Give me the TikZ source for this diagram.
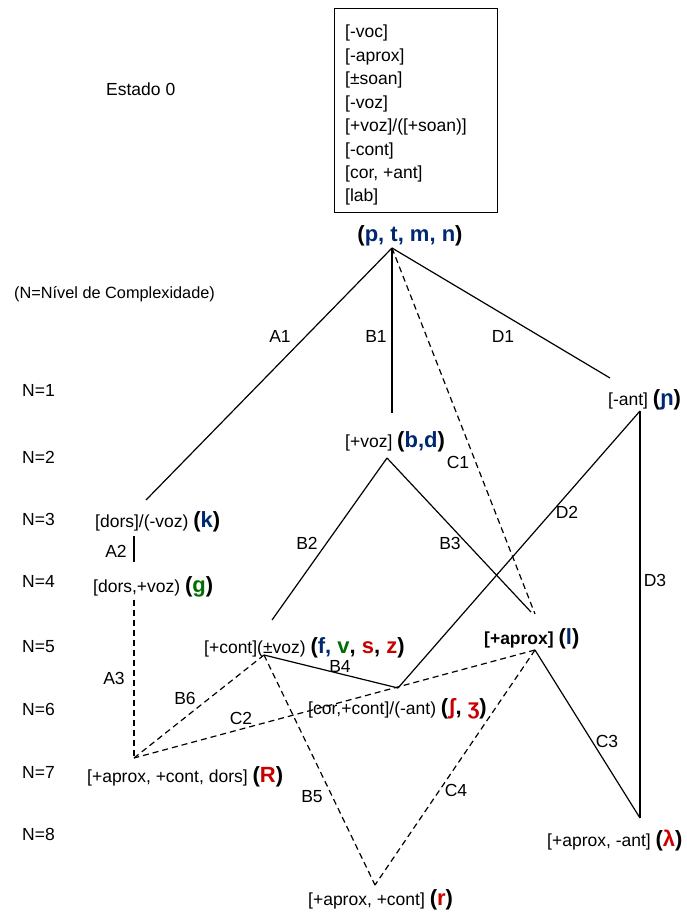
\documentclass[tikz,border=0pt]{standalone}
\usepackage{fontspec}
\setmainfont{Liberation Sans}
\definecolor{nblue}{RGB}{0,40,110}
\definecolor{ngreen}{RGB}{0,110,0}
\definecolor{nred}{RGB}{200,0,0}
\newcommand\symb[1]{{\fontsize{22}{26}\selectfont\bfseries #1}}
\tikzset{
  txt/.style={font=\fontsize{17.5}{21}\selectfont, inner sep=0pt, anchor=base west},
  lbl/.style={font=\fontsize{17.5}{21}\selectfont, inner sep=0pt},
  edge/.style={line width=1.2pt},
  dedge/.style={line width=1.2pt, dash pattern=on 6pt off 4pt},
}
\begin{document}
\begin{tikzpicture}[x=1pt,y=-1pt]
\useasboundingbox (0,0) rectangle (687,915);
% feature box
\node[draw, line width=0.9pt, anchor=north west, minimum width=163pt, minimum height=204pt, inner sep=0pt] (box) at (334,8) {};
\foreach \t [count=\i] in {{[-voc]},{[-aprox]},{[±soan]},{[-voz]},{[+voz]/([+soan)]},{[-cont]},{[cor, +ant]},{[lab]}}
  \node[txt] (b\i) at (345,{38+23.4*(\i-1)}) {\t};
\node[txt] (estado) at (106,96) {Estado 0};
\node[inner sep=0pt] (ptmn) at (410,236) {\symb{(\textcolor{nblue}{p, t, m, n})}};
\node[txt, font=\fontsize{16.3}{19}\selectfont] (nivel) at (14,298) {(N=Nível de Complexidade)};
% level labels
\foreach \n/\y in {1/396,2/463,3/525,4/587,5/652,6/715,7/778,8/840}
  \node[txt] (N\n) at (22,\y) {N=\n};
% node texts
\node[txt] (ant) at (608,405) {[-ant] \symb{(\textcolor{nblue}{ɲ})}};
\node[txt] (voz) at (345,447) {[+voz] \symb{(\textcolor{nblue}{b,d})}};
\node[txt] (k) at (95,527) {[dors]/(-voz) \symb{(\textcolor{nblue}{k})}};
\node[txt] (g) at (93,592) {[dors,+voz) \symb{(\textcolor{ngreen}{g})}};
\node[txt] (cont) at (204,653) {[+cont](±voz) \symb{(\textcolor{nblue}{f,} \textcolor{ngreen}{v}, \textcolor{nred}{s}, \textcolor{nred}{z})}};
\node[txt] (aprox) at (484,644) {\bfseries [+aprox] \symb{(\textcolor{nblue}{l})}};
\node[txt] (cor) at (308,714) {[cor,+cont]/(-ant) \symb{(\textcolor{nred}{ʃ}, \textcolor{nred}{ʒ})}};
\node[txt] (Rn) at (87,782) {[+aprox, +cont, dors] \symb{(\textcolor{nred}{R})}};
\node[txt] (lamn) at (547,846) {[+aprox, -ant] \symb{(\textcolor{nred}{λ})}};
\node[txt] (rn) at (308,905) {[+aprox, +cont] \symb{(\textcolor{nred}{r})}};
% junction points
\coordinate (top) at (392,248);
\coordinate (kE) at (146,500);
\coordinate (bdE) at (392,413);
\coordinate (antE) at (610,378);
\coordinate (C1E) at (535,614);
\coordinate (bdT) at (387,458);
\coordinate (B2E) at (272,620);
\coordinate (antT) at (640,411);
\coordinate (fvsz) at (264,655);
\coordinate (lB3) at (531,612);
\coordinate (sh) at (398,688);
\coordinate (lT) at (535,650);
\coordinate (A2a) at (134,536);
\coordinate (A2b) at (134,562);
\coordinate (A3a) at (134,600);
\coordinate (R) at (134,758);
\coordinate (r) at (375,885);
\coordinate (lam) at (640,818);
% connectors
\draw[edge] (top) -- (kE);
\draw[edge] (top) -- (bdE);
\draw[edge] (top) -- (antE);
\draw[dedge] (top) -- (C1E);
\draw[edge] (bdT) -- (B2E);
\draw[edge] (bdT) -- (lB3);
\draw[edge] (antT) -- (sh);
\draw[edge] (antT) -- (lam);
\draw[edge] (A2a) -- (A2b);
\draw[dedge] (A3a) -- (R);
\draw[edge] (fvsz) -- (sh);
\draw[dedge] (fvsz) -- (R);
\draw[dedge] (lT) -- (R);
\draw[dedge] (fvsz) -- (r);
\draw[dedge] (lT) -- (r);
\draw[edge] (lT) -- (lam);
% edge labels
\node[lbl] (lA1) at (280,336) {A1};
\node[lbl] (lB1) at (376,336) {B1};
\node[lbl] (lD1) at (503,336) {D1};
\node[lbl] (lC1) at (458,462) {C1};
\node[lbl] (lD2) at (567,512) {D2};
\node[lbl] (lB2) at (307,543) {B2};
\node[lbl] (lB3) at (450,543) {B3};
\node[lbl] (lA2) at (116,551) {A2};
\node[lbl] (lD3) at (655,580) {D3};
\node[lbl] (lA3) at (114,678) {A3};
\node[lbl] (lB4) at (340,666) {B4};
\node[lbl] (lB6) at (185,698) {B6};
\node[lbl] (lC2) at (241,718) {C2};
\node[lbl] (lC3) at (607,741) {C3};
\node[lbl] (lC4) at (456,790) {C4};
\node[lbl] (lB5) at (312,797) {B5};
\end{tikzpicture}
\end{document}
